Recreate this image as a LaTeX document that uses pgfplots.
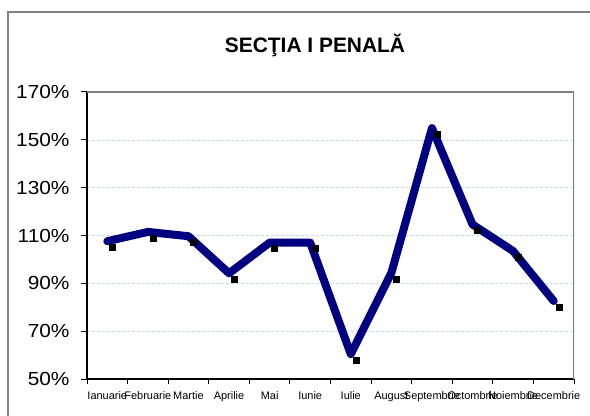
\documentclass[border=0pt]{standalone}
\usepackage{fontspec}
\setmainfont{Liberation Sans}
\usepackage{pgfplots}
\pgfplotsset{compat=1.18}
\definecolor{linenavy}{RGB}{0,0,128}
\definecolor{gridblue}{RGB}{200,215,245}
\definecolor{framegray}{RGB}{128,128,128}

\begin{document}
\begin{tikzpicture}
\useasboundingbox (0bp,0bp) rectangle (590bp,416bp);
\draw[framegray, line width=1.5bp] (8bp,-2bp) -- (8bp,404bp) -- (592bp,404bp);
\node[font=\fontsize{21}{24}\selectfont\bfseries] at (315bp,371bp) {SECŢIA I PENALĂ};
\begin{axis}[
  at={(87bp,37bp)}, anchor=south west,
  scale only axis, width=487bp, height=287bp,
  xmin=0, xmax=12, ymin=50, ymax=170,
  axis x line*=bottom, axis y line*=left,
  axis line style={black, line width=1.2bp, -},
  xtick={0.5,1.5,...,11.5},
  xticklabels={Ianuarie,Februarie,Martie,Aprilie,Mai,Iunie,Iulie,August,Septembrie,Octombrie,Noiembrie,Decembrie},
  minor xtick={0,1,...,12},
  major x tick style={draw=none},
  minor tick length=5bp,
  major tick length=6bp,
  tick align=outside,
  tick style={black, line width=1bp},
  ytick={50,70,...,170},
  yticklabel={\pgfmathprintnumber{\tick}\%},
  ymajorgrids, grid style={gridblue, densely dashed, line width=0.6bp},
  xticklabel style={font=\fontsize{11}{12}\selectfont, yshift=-3bp},
  yticklabel style={font=\fontsize{19}{21}\selectfont, xscale=1.1, xshift=-7bp},
  /pgf/number format/assume math mode=true,
]
\draw[framegray, line width=1.8bp] (rel axis cs:0,1) -- (rel axis cs:1,1) -- (rel axis cs:1,0);
\addplot[only marks, mark=square*, mark size=3bp, black,
         mark options={xshift=5bp, yshift=-6bp}] table {
x    y
0.5  107.6
1.5  111.5
2.5  109.7
3.5  94.2
4.5  107.0
5.5  107.0
6.5  60.4
7.5  94.4
8.5  154.9
9.5  114.6
10.5 103.5
11.5 82.6
};
\addplot[linenavy, line width=8bp, line join=round, line cap=round] table {
x    y
0.5  107.6
1.5  111.5
2.5  109.7
3.5  94.2
4.5  107.0
5.5  107.0
6.5  60.4
7.5  94.4
8.5  154.9
9.5  114.6
10.5 103.5
11.5 82.6
};
\end{axis}
\end{tikzpicture}
\end{document}
